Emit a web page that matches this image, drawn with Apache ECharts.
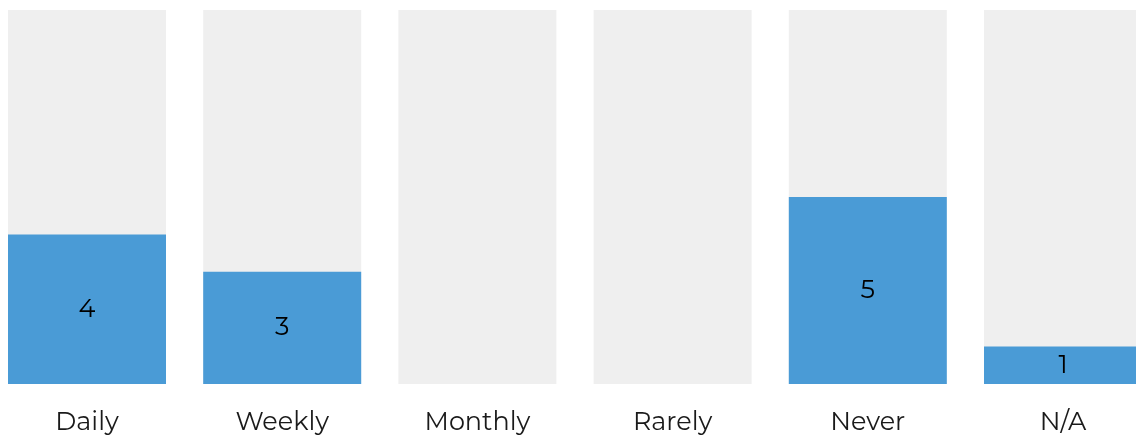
<!DOCTYPE html>
<html><head><meta charset="utf-8">
<script src="https://cdn.jsdelivr.net/npm/echarts@6/dist/echarts.min.js"></script>
<style>html,body{margin:0;padding:0;background:#fff}#c{width:1136px;height:439px}</style>
</head><body><div id="c"></div>
<script>
const categories = ['Daily','Weekly','Monthly','Rarely','Never','N/A'];
const values = [4, 3, 0, 0, 5, 1];
const axisMax = 10;
const font = 'Montserrat, "Noto Sans", sans-serif';
const chart = echarts.init(document.getElementById('c'));
chart.setOption({
  animation:false,
  grid:{left:87, right:73, top:10, bottom:55, containLabel:false},
  xAxis:{type:'category', data:categories, boundaryGap:false,
    axisLine:{show:false}, axisTick:{show:false}, splitLine:{show:false},
    axisLabel:{fontSize:25.5, color:'#1a1a1a', margin:25, fontFamily:font, interval:0}},
  yAxis:{type:'value', min:0, max:axisMax, show:false, splitLine:{show:false}},
  series:[{type:'bar', data:values, barWidth:158, clip:false,
    showBackground:true, backgroundStyle:{color:'#efefef'},
    itemStyle:{color:'#4a9bd6'},
    label:{show:true, position:'inside', fontSize:25.5, color:'#000', fontFamily:font,
      formatter:p=>p.value>0?p.value:''}}]
});
</script></body></html>
